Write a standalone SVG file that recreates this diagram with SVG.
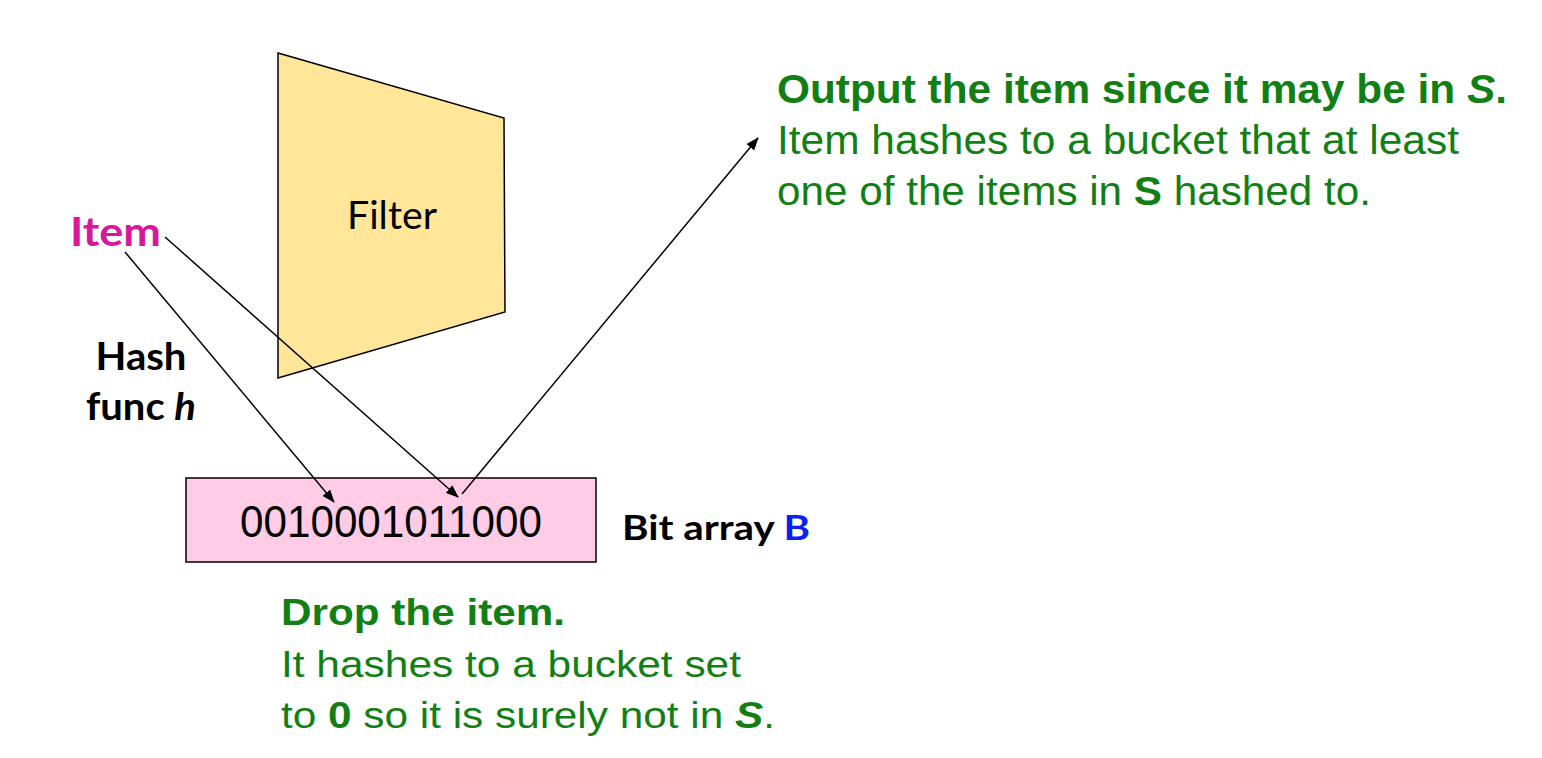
<svg xmlns="http://www.w3.org/2000/svg" width="1542" height="758" viewBox="0 0 1542 758">
<style>
.cal{font-family:Lato,"Open Sans","Liberation Sans",sans-serif}
.grn{font-family:"Liberation Sans",Arial,sans-serif;fill:#127F15}
.b{font-weight:bold}
.conn line{stroke:#000;stroke-width:1.5;fill:none}
</style>
<defs>
<marker id="ah" markerWidth="13" markerHeight="10" refX="12" refY="5" orient="auto" markerUnits="userSpaceOnUse" viewBox="0 0 13 10">
<path d="M0,0 L13,5 L0,10 z" fill="#000"/>
</marker>
</defs>
<rect width="1542" height="758" fill="#fff"/>
<g id="filter">
<polygon points="278,53 504,118 505,312 278,378" fill="#FFE699" stroke="#000" stroke-width="1.5"/>
<text x="392" y="229" class="cal" font-size="38" text-anchor="middle" fill="#000" textLength="90" lengthAdjust="spacingAndGlyphs">Filter</text>
</g>
<g id="item">
<text x="70" y="246" class="cal b" font-size="40" fill="#D4199A" textLength="91" lengthAdjust="spacingAndGlyphs">Item</text>
</g>
<g id="hash">
<text x="141" y="370" class="cal b" font-size="38" text-anchor="middle" fill="#000" textLength="91" lengthAdjust="spacingAndGlyphs">Hash</text>
<text x="141" y="420" class="cal b" font-size="38" text-anchor="middle" fill="#000" textLength="110" lengthAdjust="spacingAndGlyphs">func <tspan font-style="italic">h</tspan></text>
</g>
<g id="bitarray">
<rect x="186" y="478" width="410" height="84" fill="#FFCCE5" stroke="#000" stroke-width="1.5"/>
<text x="391" y="537" font-family="'Liberation Sans',Arial,sans-serif" font-size="44" text-anchor="middle" fill="#000" textLength="302" lengthAdjust="spacingAndGlyphs">0010001011000</text>
</g>
<g id="bitlabel">
<text x="622" y="540" class="cal b" font-size="34" fill="#000" textLength="188" lengthAdjust="spacingAndGlyphs">Bit array <tspan fill="#0A1FF5">B</tspan></text>
</g>
<g id="output">
<text x="777" y="103" class="grn b" font-size="40" textLength="730" lengthAdjust="spacingAndGlyphs">Output the item since it may be in <tspan font-style="italic">S</tspan>.</text>
<text x="777" y="154" class="grn" font-size="40" textLength="682" lengthAdjust="spacingAndGlyphs">Item hashes to a bucket that at least</text>
<text x="777" y="205" class="grn" font-size="40" textLength="594" lengthAdjust="spacingAndGlyphs">one of the items in <tspan font-weight="bold">S</tspan> hashed to.</text>
</g>
<g id="drop">
<text x="281" y="625" class="grn b" font-size="36" textLength="284" lengthAdjust="spacingAndGlyphs">Drop the item.</text>
<text x="281" y="677" class="grn" font-size="36" textLength="460" lengthAdjust="spacingAndGlyphs">It hashes to a bucket set</text>
<text x="281" y="728" class="grn" font-size="36" textLength="494" lengthAdjust="spacingAndGlyphs">to <tspan font-weight="bold">0</tspan> so it is surely not in <tspan font-weight="bold" font-style="italic">S</tspan>.</text>
</g>
<g id="connectors" class="conn">
<line x1="165" y1="237" x2="458" y2="497" marker-end="url(#ah)"/>
<line x1="125" y1="252" x2="334" y2="502" marker-end="url(#ah)"/>
<line x1="462" y1="494" x2="758" y2="138" marker-end="url(#ah)"/>
</g>
</svg>
